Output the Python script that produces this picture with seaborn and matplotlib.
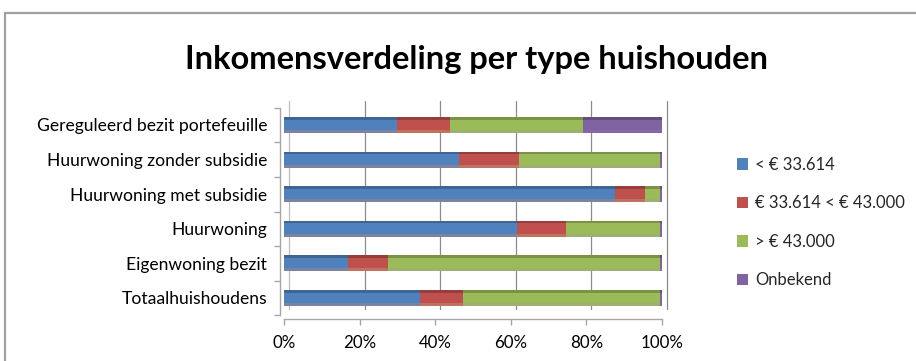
import matplotlib
matplotlib.use("Agg")
import matplotlib.pyplot as plt
import matplotlib.transforms as mtransforms
from matplotlib.patches import Rectangle
import numpy as np
import pandas as pd
import seaborn as sns

# Household income distribution per household type (shares in %)
categories = [
    "Gereguleerd bezit portefeuille",
    "Huurwoning zonder subsidie",
    "Huurwoning met subsidie",
    "Huurwoning",
    "Eigenwoning bezit",
    "Totaalhuishoudens",
]
series_names = ["< € 33.614", "€ 33.614 < € 43.000", "> € 43.000", "Onbekend"]
low_income = [30.0, 46.3, 87.6, 61.6, 16.8, 36.0]
mid_income = [13.9, 15.9, 7.9, 13.0, 10.8, 11.4]
high_income = [35.1, 37.3, 4.0, 25.0, 71.9, 52.1]
unknown = [21.0, 0.5, 0.5, 0.4, 0.5, 0.5]
x_ticks = [0, 20, 40, 60, 80, 100]
x_tick_labels = ["0%", "20%", "40%", "60%", "80%", "100%"]
title = "Inkomensverdeling per type huishouden"

colors = ["#4F81BD", "#C0504D", "#9BBB59", "#8064A2"]

sns.set_theme(style="white")
plt.rcParams["font.family"] = ["Lato", "DejaVu Sans"]

W, H = 916, 361
fig = plt.figure(figsize=(W / 100, H / 100), dpi=100)
fig.patch.set_facecolor("white")

# Axes placed in pixel terms
x0, x1 = 284, 662
y_top, y_bot = 107.7, 315.3
ax = fig.add_axes([x0 / W, 1 - y_bot / H, (x1 - x0) / W, (y_bot - y_top) / H])
ax.set_facecolor("none")

df = pd.DataFrame({
    "category": categories,
    "low": low_income,
    "mid": mid_income,
    "high": high_income,
    "unknown": unknown,
})
cum = df[["low", "mid", "high", "unknown"]].cumsum(axis=1)
cum["category"] = df["category"]

# Stacked bars: draw cumulative totals from the right-most segment inward
for col, color in zip(["unknown", "high", "mid", "low"], colors[::-1]):
    sns.barplot(data=cum, x=col, y="category", order=categories,
                color=color, orient="h", width=0.46, saturation=1, ax=ax,
                zorder=3, linewidth=0, edgecolor="none")

# Bevelled look: darker top strip and lighter lower edge on every segment
for p in list(ax.patches):
    fc = p.get_facecolor()
    x, y = p.get_x(), p.get_y()
    w, h = p.get_width(), p.get_height()
    dark = tuple(np.clip(np.array(fc[:3]) * 0.78, 0, 1))
    light = tuple(np.clip(np.array(fc[:3]) * 1.08, 0, 1))
    ax.add_patch(Rectangle((x, y), w, h * 0.16, facecolor=dark,
                           edgecolor="none", linewidth=0, zorder=4))
    ax.add_patch(Rectangle((x, y + h * 0.82), w, h * 0.18, facecolor=light,
                           edgecolor="none", linewidth=0, zorder=4, alpha=0.6))

ax.set_xlim(0, 100)
ax.set_ylim(5.5, -0.5)

# Back-wall gridlines, shifted to suggest depth
depth = mtransforms.ScaledTranslation(5 / 100, 5 / 100, fig.dpi_scale_trans)
for t in x_ticks[1:]:
    ax.plot([t, t], [5.45, -0.55], color="#8C8C8C", lw=0.9,
            transform=ax.transData + depth, zorder=1, clip_on=False)
ax.plot([0, 0], [5.45, -0.55], color="#BFBFBF", lw=0.9,
        transform=ax.transData + depth, zorder=1, clip_on=False)

for s in ["top", "right"]:
    ax.spines[s].set_visible(False)
for s in ["left", "bottom"]:
    ax.spines[s].set_color("#A6A6A6")
    ax.spines[s].set_linewidth(1.0)
ax.spines["left"].set_position(("outward", 3))
ax.spines["bottom"].set_position(("outward", 3))

ax.set_xticks(x_ticks)
ax.set_xticklabels(x_tick_labels)
ax.set_yticks(range(len(categories)))
ax.set_yticklabels(categories)
ax.set_yticks(np.arange(-0.5, len(categories), 1.0), minor=True)
ax.tick_params(axis="y", which="major", length=0, pad=9, labelsize=12.6,
               labelcolor="black")
ax.tick_params(axis="y", which="minor", left=True, length=4, color="#A6A6A6",
               width=1.0)
ax.tick_params(axis="x", which="major", bottom=True, length=4, color="#A6A6A6",
               width=1.0, pad=7, labelsize=12.2, labelcolor="black")
ax.set_xlabel("")
ax.set_ylabel("")
ax.grid(False)

fig.text(477 / W, 1 - 59 / H, title, ha="center", va="center",
         fontsize=23.5, fontweight="bold", color="black")

handles = [Rectangle((0, 0), 1, 1, facecolor=c, edgecolor="none") for c in colors]
fig.legend(handles, series_names, loc="upper left",
           bbox_to_anchor=(730 / W, 1 - 150 / H), frameon=False,
           fontsize=12, handlelength=0.7, handleheight=0.7,
           handletextpad=0.4, labelspacing=1.35, borderaxespad=0)

# Chart-area frame (runs off the right and bottom edges)
fig.patches.append(Rectangle((5 / W, -0.05), 1.1, 1 - 13 / H + 0.05,
                             transform=fig.transFigure, fill=False,
                             edgecolor="#A0A0A0", linewidth=1.6))

fig.savefig("out.png", dpi=100, facecolor="white")
